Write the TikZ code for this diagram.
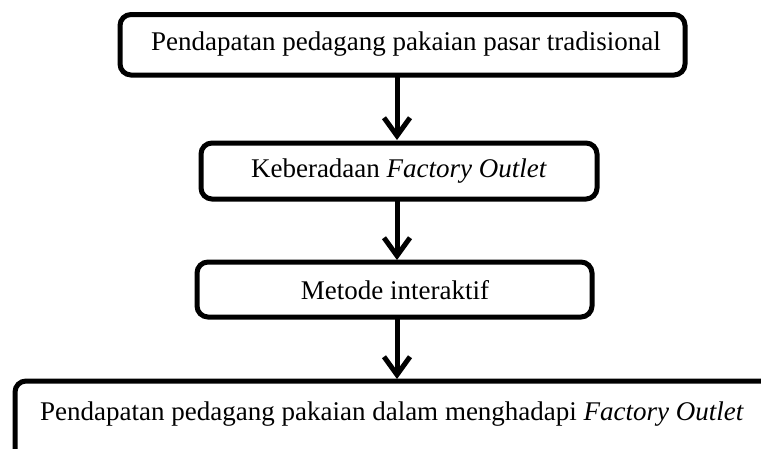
\documentclass[tikz,border=0pt]{standalone}
\usepackage{fontspec}
\setmainfont{Liberation Serif}
\usetikzlibrary{arrows.meta}
\begin{document}
\begin{tikzpicture}[x=1pt,y=-1pt,
  boxline/.style={line width=5pt, rounded corners=11pt},
  txt/.style={font=\fontsize{27}{32}\selectfont, inner sep=0pt},
  flowarrow/.style={line width=5pt, -{Straight Barb[length=18pt,width=26pt,line width=5pt]}}]
\useasboundingbox (0,0) rectangle (761,448);
\clip (0,0) rectangle (761,448);
\draw[boxline] (120,14.5) rectangle (685,75);
\node[txt] (t1) at (406,44) {Pendapatan pedagang pakaian pasar tradisional};
\draw[boxline] (201,143) rectangle (597,199);
\node[txt] (t2) at (399,171) {Keberadaan \textit{Factory Outlet}};
\draw[boxline] (197,262) rectangle (592,317);
\node[txt] (t3) at (395,290) {Metode interaktif};
\draw[boxline] (15,381) rectangle (790,470);
\node[txt] (t4) at (392,414) {Pendapatan pedagang pakaian dalam menghadapi \textit{Factory Outlet}};
\coordinate (a1s) at (397,77);
\coordinate (a1e) at (397,140);
\coordinate (a2s) at (397,201);
\coordinate (a2e) at (397,260);
\coordinate (a3s) at (397,319);
\coordinate (a3e) at (397,379);
\draw[flowarrow] (a1s) -- (a1e);
\draw[flowarrow] (a2s) -- (a2e);
\draw[flowarrow] (a3s) -- (a3e);
\end{tikzpicture}
\end{document}
